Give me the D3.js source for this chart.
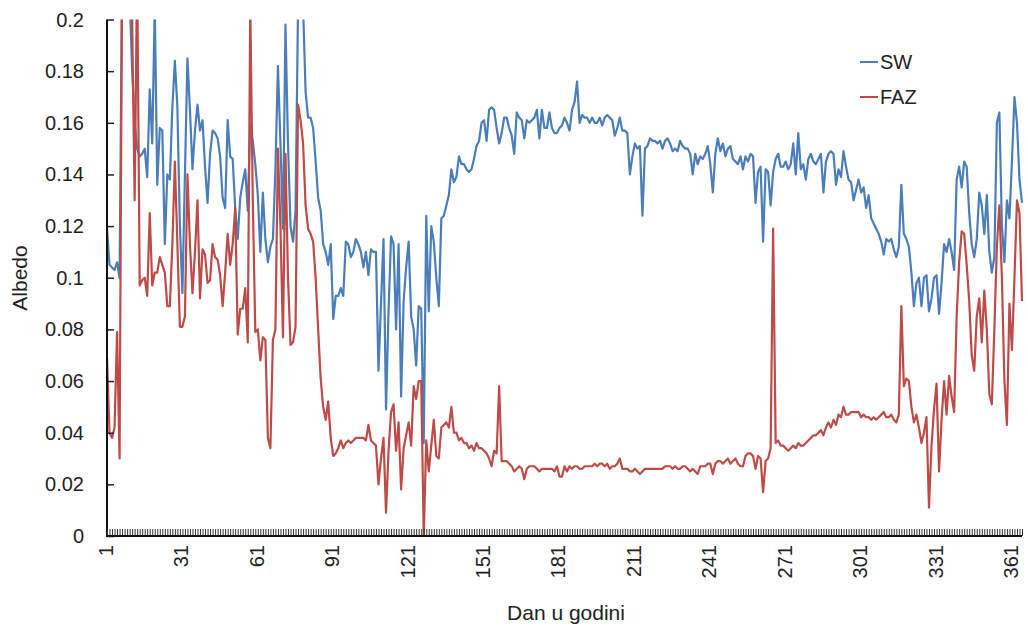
<!DOCTYPE html>
<html>
<head>
<meta charset="utf-8">
<script src="https://cdn.jsdelivr.net/npm/d3@7"></script>
<style>
  html, body { margin: 0; padding: 0; background: #fff; }
  svg { display: block; font-family: "Liberation Sans", Arial, sans-serif; }
</style>
</head>
<body>
<svg id="chart" width="1028" height="630"></svg>
<script>
// ---- data ----
const seriesNames = ["SW", "FAZ"];
const xTickLabels = ["1","31","61","91","121","151","181","211","241","271","301","331","361"];
const yTicks = [0, 0.02, 0.04, 0.06, 0.08, 0.1, 0.12, 0.14, 0.16, 0.18, 0.2];
const axisTitleX = "Dan u godini";
const axisTitleY = "Albedo";

const swValues = [
  0.119,0.105,0.104,0.103,0.106,0.100,0.215,0.210,0.220,0.210,
  0.180,0.160,0.150,0.147,0.148,0.150,0.139,0.173,0.152,0.205,
  0.136,0.158,0.157,0.113,0.140,0.138,0.166,0.184,0.166,0.120,
  0.094,0.140,0.185,0.165,0.142,0.157,0.167,0.157,0.161,0.143,
  0.129,0.148,0.157,0.156,0.154,0.147,0.131,0.127,0.161,0.147,
  0.146,0.127,0.115,0.131,0.137,0.142,0.126,0.160,0.153,0.144,
  0.132,0.110,0.133,0.115,0.106,0.112,0.115,0.142,0.182,0.152,
  0.119,0.198,0.152,0.120,0.114,0.126,0.205,0.215,0.205,0.172,
  0.162,0.162,0.158,0.145,0.131,0.126,0.113,0.110,0.105,0.113,
  0.084,0.093,0.093,0.096,0.093,0.114,0.113,0.108,0.110,0.115,
  0.113,0.110,0.104,0.110,0.101,0.111,0.110,0.110,0.064,0.090,
  0.115,0.049,0.087,0.116,0.113,0.080,0.113,0.054,0.091,0.104,
  0.114,0.085,0.080,0.066,0.089,0.088,0.036,0.124,0.087,0.120,
  0.114,0.100,0.089,0.123,0.124,0.128,0.132,0.142,0.137,0.139,
  0.147,0.144,0.144,0.142,0.141,0.142,0.146,0.151,0.153,0.160,
  0.161,0.153,0.165,0.166,0.165,0.158,0.152,0.156,0.162,0.162,
  0.158,0.155,0.148,0.164,0.162,0.161,0.154,0.161,0.160,0.161,
  0.162,0.165,0.154,0.165,0.158,0.158,0.164,0.158,0.156,0.156,
  0.158,0.159,0.162,0.160,0.157,0.165,0.168,0.176,0.160,0.163,
  0.162,0.162,0.160,0.162,0.160,0.160,0.162,0.159,0.162,0.163,
  0.162,0.161,0.155,0.158,0.162,0.157,0.157,0.156,0.140,0.147,
  0.152,0.150,0.151,0.124,0.150,0.151,0.154,0.153,0.153,0.152,
  0.153,0.150,0.153,0.154,0.152,0.149,0.150,0.149,0.153,0.151,
  0.150,0.150,0.148,0.140,0.148,0.144,0.147,0.146,0.148,0.151,
  0.144,0.133,0.148,0.154,0.149,0.152,0.147,0.150,0.151,0.146,
  0.145,0.144,0.147,0.142,0.147,0.145,0.148,0.147,0.129,0.141,
  0.143,0.114,0.142,0.141,0.128,0.141,0.146,0.148,0.143,0.143,
  0.145,0.142,0.144,0.152,0.140,0.156,0.142,0.144,0.138,0.146,
  0.148,0.145,0.144,0.146,0.148,0.133,0.145,0.148,0.149,0.148,
  0.136,0.142,0.139,0.149,0.143,0.138,0.137,0.130,0.134,0.138,
  0.133,0.135,0.127,0.132,0.123,0.121,0.119,0.117,0.114,0.109,
  0.115,0.114,0.115,0.111,0.108,0.112,0.136,0.117,0.115,0.112,
  0.102,0.089,0.098,0.100,0.089,0.100,0.101,0.087,0.092,0.100,
  0.101,0.086,0.098,0.113,0.110,0.115,0.110,0.103,0.138,0.143,
  0.135,0.145,0.143,0.125,0.113,0.108,0.115,0.133,0.128,0.117,
  0.132,0.110,0.102,0.108,0.160,0.164,0.120,0.106,0.130,0.123,
  0.145,0.170,0.160,0.138,0.129
];

const fazValues = [
  0.069,0.040,0.038,0.042,0.079,0.030,0.220,0.210,0.205,0.210,
  0.200,0.130,0.220,0.097,0.099,0.100,0.093,0.125,0.097,0.102,
  0.102,0.108,0.105,0.102,0.089,0.089,0.113,0.145,0.113,0.081,
  0.081,0.085,0.140,0.113,0.094,0.110,0.130,0.092,0.111,0.109,
  0.098,0.099,0.113,0.108,0.107,0.101,0.089,0.102,0.117,0.105,
  0.113,0.127,0.078,0.088,0.088,0.096,0.075,0.205,0.130,0.079,
  0.080,0.068,0.077,0.076,0.038,0.034,0.076,0.080,0.150,0.120,
  0.077,0.148,0.100,0.074,0.075,0.081,0.167,0.161,0.152,0.128,
  0.119,0.117,0.114,0.100,0.080,0.061,0.050,0.045,0.052,0.038,
  0.031,0.032,0.034,0.037,0.034,0.036,0.037,0.036,0.037,0.038,
  0.038,0.038,0.038,0.037,0.043,0.037,0.036,0.035,0.020,0.030,
  0.038,0.009,0.033,0.048,0.051,0.033,0.044,0.018,0.034,0.039,
  0.044,0.035,0.058,0.053,0.060,0.060,0.000,0.037,0.025,0.035,
  0.045,0.031,0.030,0.042,0.043,0.044,0.042,0.050,0.040,0.040,
  0.037,0.038,0.036,0.036,0.034,0.035,0.033,0.036,0.034,0.034,
  0.033,0.032,0.030,0.027,0.033,0.032,0.058,0.029,0.029,0.029,
  0.028,0.027,0.025,0.026,0.027,0.026,0.022,0.026,0.027,0.027,
  0.027,0.026,0.025,0.026,0.026,0.026,0.026,0.026,0.025,0.027,
  0.023,0.023,0.027,0.025,0.027,0.026,0.027,0.027,0.026,0.026,
  0.027,0.027,0.027,0.027,0.028,0.027,0.028,0.028,0.027,0.028,
  0.026,0.027,0.027,0.028,0.030,0.026,0.026,0.026,0.025,0.025,
  0.026,0.025,0.024,0.025,0.026,0.026,0.026,0.026,0.026,0.026,
  0.026,0.026,0.027,0.027,0.027,0.026,0.027,0.026,0.026,0.027,
  0.027,0.026,0.025,0.026,0.025,0.024,0.027,0.027,0.027,0.028,
  0.028,0.024,0.028,0.029,0.029,0.028,0.029,0.030,0.028,0.029,
  0.030,0.028,0.027,0.027,0.031,0.032,0.032,0.031,0.026,0.031,
  0.030,0.017,0.029,0.030,0.034,0.119,0.036,0.037,0.035,0.035,
  0.034,0.033,0.034,0.035,0.034,0.036,0.035,0.035,0.036,0.037,
  0.038,0.039,0.039,0.040,0.041,0.039,0.042,0.044,0.042,0.045,
  0.043,0.047,0.046,0.050,0.047,0.047,0.048,0.048,0.048,0.048,
  0.046,0.047,0.046,0.046,0.045,0.046,0.045,0.046,0.047,0.048,
  0.046,0.046,0.047,0.045,0.044,0.047,0.089,0.058,0.061,0.060,
  0.050,0.044,0.047,0.042,0.036,0.040,0.046,0.011,0.035,0.049,
  0.059,0.025,0.045,0.060,0.047,0.062,0.054,0.048,0.085,0.106,
  0.118,0.117,0.105,0.091,0.070,0.064,0.085,0.092,0.075,0.095,
  0.080,0.055,0.051,0.080,0.112,0.128,0.100,0.060,0.043,0.090,
  0.072,0.100,0.130,0.125,0.091
];

const days = d3.range(1, swValues.length + 1);
const colors = ["#4a7ebb", "#be4b48"];

// ---- layout ----
const svg = d3.select("#chart");
const plot = { left: 107, right: 1022, top: 19.5, bottom: 536 };

const x = d3.scalePoint().domain(days).range([plot.left, plot.right]);
const y = d3.scaleLinear().domain([0, 0.2]).range([plot.bottom, plot.top]);

svg.append("defs").append("clipPath").attr("id", "plotclip")
  .append("rect")
  .attr("x", plot.left).attr("y", plot.top)
  .attr("width", plot.right - plot.left + 2).attr("height", plot.bottom - plot.top);

// lines
const line = d3.line().x((d, i) => x(days[i])).y(d => y(d));
const g = svg.append("g").attr("clip-path", "url(#plotclip)");
[swValues, fazValues].forEach((vals, k) => {
  g.append("path")
    .datum(vals)
    .attr("fill", "none")
    .attr("stroke", colors[k])
    .attr("stroke-width", 2.2)
    .attr("stroke-linejoin", "round")
    .attr("d", line);
});

// y axis
const yAxis = d3.axisRight(y).tickValues(yTicks).tickSize(7).tickFormat("");
const yg = svg.append("g").attr("transform", `translate(${plot.left},0)`).call(yAxis);
yg.select(".domain").remove();
yg.selectAll(".tick line").attr("stroke", "#222").attr("stroke-width", 1.5);
svg.append("line")
  .attr("x1", plot.left).attr("x2", plot.left)
  .attr("y1", plot.top).attr("y2", plot.bottom + 1)
  .attr("stroke", "#111").attr("stroke-width", 2);

svg.append("g").selectAll("text").data(yTicks).join("text")
  .attr("x", 84).attr("y", d => y(d))
  .attr("dy", "0.35em")
  .attr("text-anchor", "end")
  .attr("font-size", 20)
  .attr("fill", "#222")
  .text(d => d === 0 ? "0" : d3.format("")(+d.toFixed(2)));

// x axis
const xAxis = d3.axisTop(x).tickValues(days).tickSize(7).tickFormat("");
const xg = svg.append("g").attr("transform", `translate(0,${plot.bottom})`).call(xAxis);
xg.select(".domain").remove();
xg.selectAll(".tick line").attr("stroke", "#333").attr("stroke-width", 1);
svg.append("line")
  .attr("x1", plot.left - 1).attr("x2", plot.right)
  .attr("y1", plot.bottom).attr("y2", plot.bottom)
  .attr("stroke", "#111").attr("stroke-width", 2);

svg.append("g").selectAll("text").data(xTickLabels).join("text")
  .attr("transform", d => `translate(${x(+d) + 6},545) rotate(-90)`)
  .attr("text-anchor", "end")
  .attr("font-size", 20)
  .attr("fill", "#222")
  .text(d => d);

// axis titles
svg.append("text")
  .attr("x", 566).attr("y", 620)
  .attr("text-anchor", "middle")
  .attr("font-size", 21)
  .attr("fill", "#222")
  .text(axisTitleX);

svg.append("text")
  .attr("transform", "translate(27,278) rotate(-90)")
  .attr("text-anchor", "middle")
  .attr("font-size", 21)
  .attr("fill", "#222")
  .text(axisTitleY);

// legend
const legend = svg.append("g");
seriesNames.forEach((name, k) => {
  const ly = 62 + k * 35;
  legend.append("line")
    .attr("x1", 860).attr("x2", 878).attr("y1", ly).attr("y2", ly)
    .attr("stroke", colors[k]).attr("stroke-width", 2);
  legend.append("text")
    .attr("x", 880).attr("y", ly).attr("dy", "0.35em")
    .attr("font-size", 20).attr("fill", "#222")
    .text(name);
});
</script>
</body>
</html>
